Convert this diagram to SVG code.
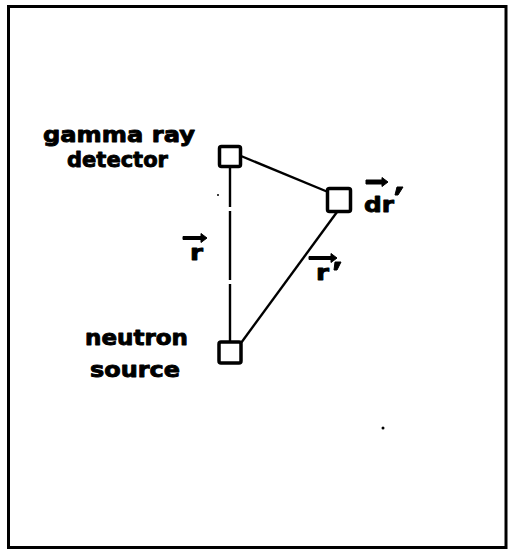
<svg xmlns="http://www.w3.org/2000/svg" width="510" height="552" viewBox="0 0 510 552">
<style>
.frame{fill:none;stroke:#000;stroke-width:3}
.box{fill:#fff;stroke:#000;stroke-width:3.5}
.edge{stroke:#000;stroke-width:2.4;fill:none}
.lbl{font-family:"DejaVu Sans",sans-serif;font-weight:bold;font-size:22px;fill:#000;stroke:#000;stroke-width:0.9;stroke-linejoin:round}
.vec{fill:#000;stroke:#000;stroke-width:1;stroke-linejoin:round}
</style>
<rect width="510" height="552" fill="#fff"/>
<rect class="frame" x="8.5" y="6.5" width="497.5" height="541"/>
<g id="connectors">
<path class="edge" d="M230 167V207M230 211V280M230 284V342"/>
<path class="edge" d="M241 156L328 192"/>
<path class="edge" d="M337 212L241 343"/>
</g>
<g id="detector">
<rect class="box" x="219.5" y="146.5" width="21" height="20" rx="2"/>
<text class="lbl" x="43" y="142" textLength="152" lengthAdjust="spacingAndGlyphs">gamma ray</text>
<text class="lbl" x="67" y="167" textLength="101" lengthAdjust="spacingAndGlyphs">detector</text>
</g>
<g id="element">
<rect class="box" x="327.5" y="188.5" width="23" height="23" rx="2"/>
<path class="vec" d="M366 180h16l0-2.5l6 4.5l-6 4.5l0-2.5h-16z"/>
<text class="lbl" x="364" y="212" textLength="30" lengthAdjust="spacingAndGlyphs">dr</text>
<path class="vec" d="M397 187l6 0l-5 8l-3 0z"/>
</g>
<g id="source">
<rect class="box" x="219" y="342" width="22" height="21" rx="2"/>
<text class="lbl" x="85" y="345" textLength="103" lengthAdjust="spacingAndGlyphs">neutron</text>
<text class="lbl" x="90" y="377" textLength="90" lengthAdjust="spacingAndGlyphs">source</text>
</g>
<g id="label-r">
<path class="vec" d="M183 236.5h18l0-3l6 4.5l-6 4.5l0-3h-18z"/>
<text class="lbl" x="190" y="260" textLength="13" lengthAdjust="spacingAndGlyphs">r</text>
</g>
<g id="label-rprime">
<path class="vec" d="M309 256.5h22l0-3l6 4.5l-6 4.5l0-3h-22z"/>
<text class="lbl" x="316" y="280" textLength="13" lengthAdjust="spacingAndGlyphs">r</text>
<path class="vec" d="M335 262l6 0l-4 8l-3 0z"/>
</g>
<circle cx="218" cy="195" r="1" fill="#000"/>
<circle cx="383" cy="428" r="1.5" fill="#000"/>
</svg>
